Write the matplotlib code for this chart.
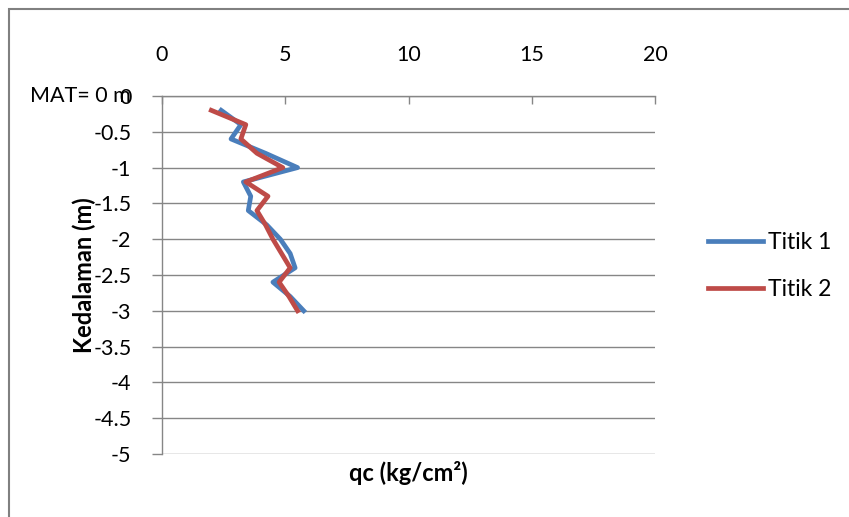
import matplotlib.pyplot as plt
from matplotlib.patches import Rectangle

plt.rcParams['font.family'] = ['Lato', 'DejaVu Sans']

# depth (m) and cone resistance qc (kg/cm2) for the two sounding points
depth = [-0.2, -0.4, -0.6, -0.8, -1.0, -1.2, -1.4, -1.6, -1.8, -2.0, -2.2, -2.4, -2.6, -2.8, -3.0]
qc_titik1 = [2.4, 3.2, 2.8, 4.2, 5.5, 3.3, 3.6, 3.5, 4.25, 4.8, 5.2, 5.4, 4.5, 5.2, 5.75]
qc_titik2 = [2.0, 3.4, 3.2, 3.85, 4.9, 3.4, 4.3, 3.85, 4.2, 4.5, 4.85, 5.2, 4.75, 5.15, 5.5]

x_ticks = [0, 5, 10, 15, 20]
y_ticks = [0, -0.5, -1, -1.5, -2, -2.5, -3, -3.5, -4, -4.5, -5]
y_ticklabels = ['0', '-0.5', '-1', '-1.5', '-2', '-2.5', '-3', '-3.5', '-4', '-4.5', '-5']

W, H = 849, 517
fig = plt.figure(figsize=(W / 100, H / 100), dpi=100)
ax = fig.add_axes([162 / W, 1 - 454 / H, 493 / W, 358 / H])

# chart area border
fig.patches.append(Rectangle((9 / W, -0.1), 1.2, 1.1 - 9 / H, transform=fig.transFigure,
                             fill=False, edgecolor='#808080', linewidth=1.5))

ax.plot(qc_titik1, depth, color='#4A7EBB', linewidth=3.4, label='Titik 1', solid_joinstyle='round')
ax.plot(qc_titik2, depth, color='#BE4B48', linewidth=3.4, label='Titik 2', solid_joinstyle='round')

ax.set_xlim(0, 20)
ax.set_ylim(-5, 0)
ax.set_xticks(x_ticks)
ax.set_yticks(y_ticks)
ax.set_yticklabels(y_ticklabels)

ax.xaxis.tick_top()
ax.tick_params(axis='x', direction='in', length=6, width=1, color='#868686', pad=22,
               labelsize=15.5)
ax.tick_params(axis='y', direction='out', length=7, width=1, color='#868686', pad=15,
               labelsize=15.5)

for s in ['right', 'bottom']:
    ax.spines[s].set_visible(False)
for s in ['top', 'left']:
    ax.spines[s].set_color('#868686')
    ax.spines[s].set_linewidth(1)

ax.grid(axis='y', color='#868686', linewidth=1)
ax.set_axisbelow(True)

ax.set_xlabel('qc (kg/cm²)', fontsize=17, fontweight='bold')
ax.xaxis.set_label_position('bottom')
ax.xaxis.set_label_coords(0.5, -0.02)
ax.set_ylabel('Kedalaman (m)', fontsize=17, fontweight='bold')
ax.yaxis.set_label_coords(-0.134, 0.5)

ax.text(-0.268, 1.0, 'MAT= 0 m', transform=ax.transAxes, fontsize=15.5,
        va='center', ha='left')

fig.legend(loc='center left', bbox_to_anchor=(708 / W, 1 - 266 / H), frameon=False,
           borderpad=0, borderaxespad=0, fontsize=16.5, handlelength=2.4,
           handletextpad=0.22, labelspacing=1.1)

fig.savefig('out.png', dpi=100, facecolor='white')
